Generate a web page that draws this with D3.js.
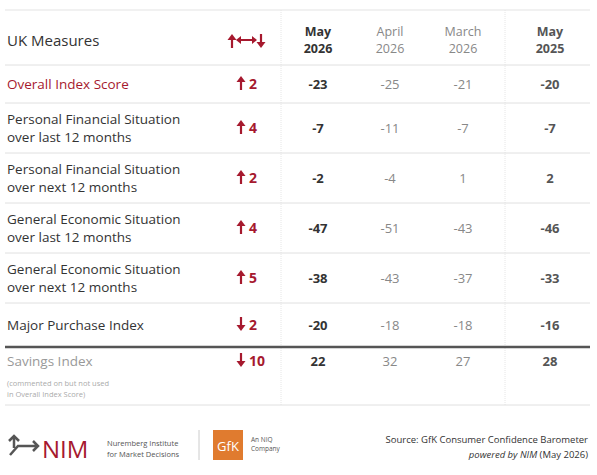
<!DOCTYPE html>
<html><head><meta charset="utf-8">
<script src="https://cdn.jsdelivr.net/npm/d3@7"></script>
<style>body{margin:0;background:#fff}text{font-family:"Open Sans",sans-serif}</style>
</head><body><svg id="t" width="597" height="475"></svg>
<script>
const measures = [
  ["Overall Index Score"],
  ["Personal Financial Situation", "over last 12 months"],
  ["Personal Financial Situation", "over next 12 months"],
  ["General Economic Situation", "over last 12 months"],
  ["General Economic Situation", "over next 12 months"],
  ["Major Purchase Index"],
  ["Savings Index"]
];
const change = [2, 4, 2, 4, 5, -2, -10];
const may2026 = [-23, -7, -2, -47, -38, -20, 22];
const april2026 = [-25, -11, -4, -51, -43, -18, 32];
const march2026 = [-21, -7, 1, -43, -37, -18, 27];
const may2025 = [-20, -7, 2, -46, -33, -16, 28];
const columns = [["May", "2026"], ["April", "2026"], ["March", "2026"], ["May", "2025"]];

const red = '#a6192e', dark = '#333', grey = '#888';
const svg = d3.select('#t');
const bounds = [65, 103, 153, 203, 253, 303, 347, 405];
const cx = i => [318, 390, 463, 550][i];

// arrow drawn as a path: dir 1 = up, -1 = down
function arrow(x, y, dir) {
  const top = y - 13, bot = y + 1;
  const tip = dir > 0 ? top : bot, base = dir > 0 ? bot : top;
  svg.append('line').attr('x1', x).attr('x2', x).attr('y1', base).attr('y2', tip + dir * 3)
    .attr('stroke', red).attr('stroke-width', 2.2);
  svg.append('path').attr('d', `M${x - 4.5},${tip + dir * 6} L${x},${tip} L${x + 4.5},${tip + dir * 6} Z`).attr('fill', red);
}

svg.append('line').attr('x1', 5).attr('x2', 590).attr('y1', 10).attr('y2', 10).attr('stroke', '#e3e3e3');
[281, 505].forEach(x => svg.append('line').attr('x1', x).attr('x2', x).attr('y1', 10).attr('y2', 405)
  .attr('stroke', '#e6e6e6').attr('stroke-dasharray', '1,1'));
bounds.forEach((y, i) => svg.append('line').attr('x1', 5).attr('x2', 590).attr('y1', y).attr('y2', y)
  .attr('stroke', i === 6 ? '#555' : '#e0e0e0').attr('stroke-width', i === 6 ? 2.5 : 1));

// header
svg.append('text').attr('x', 7).attr('y', 46).attr('font-size', 15).attr('fill', dark).text('UK Measures');
arrow(232, 47, 1);
arrow(261, 47, -1);
svg.append('line').attr('x1', 240).attr('x2', 253).attr('y1', 40).attr('y2', 40).attr('stroke', red).attr('stroke-width', 2);
svg.append('path').attr('d', 'M236,40 L241,36 L241,44 Z M257,40 L252,36 L252,44 Z').attr('fill', red);
columns.forEach((c, i) => {
  const bold = i === 0 || i === 3;
  const t = svg.append('text').attr('x', cx(i)).attr('text-anchor', 'middle').attr('font-size', 12.5)
    .attr('font-weight', bold ? 'bold' : 'normal').attr('fill', i === 0 ? dark : bold ? '#555' : grey);
  t.append('tspan').attr('x', cx(i)).attr('y', 36).text(c[0]);
  t.append('tspan').attr('x', cx(i)).attr('y', 53).text(c[1]);
});

measures.forEach((m, r) => {
  const y0 = bounds[r], y1 = bounds[r + 1];
  const mid = r === 6 ? y0 + 19 : (y0 + y1) / 2 + 5;
  const col = r === 0 ? red : r === 6 ? '#999' : dark;
  const t = svg.append('text').attr('font-size', 13.5).attr('fill', col);
  if (m.length === 1) t.append('tspan').attr('x', 7).attr('y', mid).text(m[0]);
  else { t.append('tspan').attr('x', 7).attr('y', mid - 9).text(m[0]);
         t.append('tspan').attr('x', 7).attr('y', mid + 9).text(m[1]); }
  const txt = String(Math.abs(change[r]));
  arrow(txt.length > 1 ? 241 : 241, mid, change[r] > 0 ? 1 : -1);
  svg.append('text').attr('x', 249).attr('y', mid).attr('font-size', 14).attr('font-weight', 'bold')
    .attr('fill', red).text(txt);
  [may2026, april2026, march2026, may2025].forEach((s, i) => {
    const bold = i === 0 || i === 3;
    svg.append('text').attr('x', cx(i)).attr('y', mid).attr('text-anchor', 'middle').attr('font-size', 13)
      .attr('font-weight', bold ? 'bold' : 'normal').attr('fill', i === 0 ? dark : bold ? '#555' : grey)
      .text(s[r]);
  });
});
const note = svg.append('text').attr('font-size', 7.5).attr('fill', '#aaa');
note.append('tspan').attr('x', 7).attr('y', 386).text('(commented on but not used');
note.append('tspan').attr('x', 7).attr('y', 397).text('in Overall Index Score)');

// footer logos
const g = svg.append('g');
g.append('path').attr('d', 'M14 448 L14 436 M9 441 L14 436 L19 441 M10 455 L18 446 L38 446 M33 441 L38 446 L33 451')
  .attr('stroke', '#555').attr('stroke-width', 2.5).attr('fill', 'none');
g.append('text').attr('x', 42).attr('y', 458).attr('font-size', 24).attr('fill', red).attr('font-family', 'Liberation Sans').text('NIM');
g.append('text').attr('x', 107).attr('y', 446).attr('font-size', 7.5).attr('fill', '#555').text('Nuremberg Institute');
g.append('text').attr('x', 107).attr('y', 457).attr('font-size', 7.5).attr('fill', '#555').text('for Market Decisions');
g.append('line').attr('x1', 199).attr('x2', 199).attr('y1', 430).attr('y2', 460).attr('stroke', '#ccc');
g.append('rect').attr('x', 213).attr('y', 430).attr('width', 30).attr('height', 30).attr('fill', '#e07b2f');
g.append('text').attr('x', 228).attr('y', 451).attr('text-anchor', 'middle').attr('font-size', 13).attr('fill', '#fff').text('GfK');
g.append('text').attr('x', 251).attr('y', 442).attr('font-size', 6.5).attr('fill', '#555').text('An NIQ');
g.append('text').attr('x', 251).attr('y', 451).attr('font-size', 6.5).attr('fill', '#555').text('Company');
svg.append('text').attr('x', 588).attr('y', 443).attr('text-anchor', 'end').attr('font-size', 9.5).attr('fill', '#333')
  .text('Source: GfK Consumer Confidence Barometer');
const p = svg.append('text').attr('x', 588).attr('y', 458).attr('text-anchor', 'end').attr('font-size', 9.5).attr('fill', '#333');
p.append('tspan').attr('font-style', 'italic').text('powered by NIM');
p.append('tspan').text(' (May 2026)');
</script></body></html>
